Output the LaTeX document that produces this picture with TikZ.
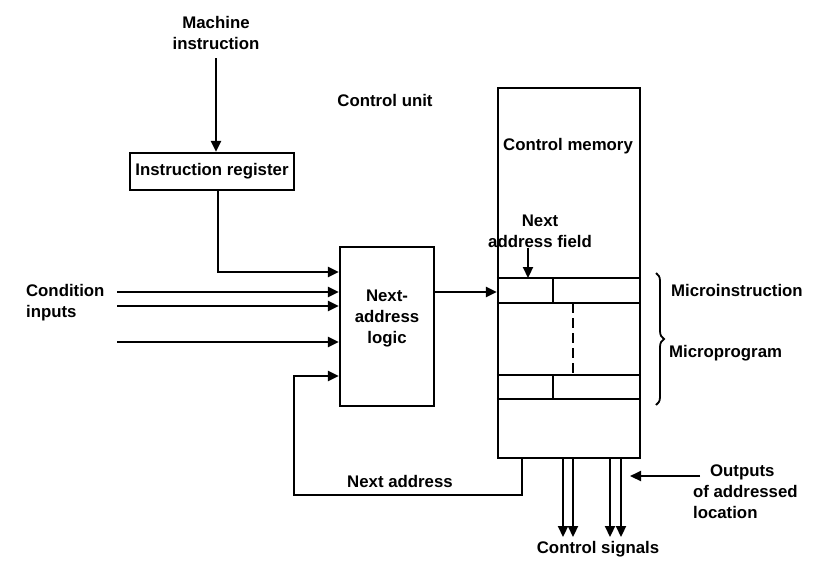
\documentclass[tikz,border=0pt]{standalone}
\usepackage{fontspec}
\setmainfont{Liberation Sans}
\usetikzlibrary{arrows.meta,decorations.pathreplacing}
\begin{document}
\begin{tikzpicture}[x=1pt,y=-1pt,
  line width=2.2pt,
  every node/.style={font=\fontsize{16.8}{21}\selectfont\bfseries, inner sep=0pt},
  arr/.style={-{Triangle[length=11pt,width=10pt]}},
  lbl/.style={align=center},
  blk/.style={draw, rectangle}]
\useasboundingbox (0,0) rectangle (824,560);
% texts
\node[lbl] (mi) at (216,33) {Machine\\instruction};
\node (cu) at (385,100) {Control unit};
\node[blk, minimum width=164pt, minimum height=37pt] (ir) at (212,171.5) {Instruction register};
\node[blk, minimum width=94pt, minimum height=159pt] (nal) at (387,326.5) {};
\node[lbl] (nalt) at (387,318) {Next-\\address\\logic};
\node[blk, minimum width=142pt, minimum height=370pt] (cm) at (569,273) {};
\node (cmt) at (568,146) {Control memory};
\node[lbl] (naf) at (540,231) {Next\\address field};
\node[align=left, anchor=west] (ci) at (25,303) {Condition\\inputs};
\node[anchor=west] (mins) at (670,290) {Microinstruction};
\node[anchor=west] (mprog) at (668,353) {Microprogram};
\node (nat) at (400,481) {Next address};
\node (cs) at (598,549) {Control signals};
\node[align=left, anchor=west] (out) at (692,492) {\hspace*{17pt}Outputs\\of addressed\\location};
% coordinates
\coordinate (c1) at (117,292);
\coordinate (c2) at (117,306);
\coordinate (c3) at (117,342);
% arrows
\draw[arr] (216,58) -- (ir.north -| 216,0);
\draw[arr] (ir.south -| 218,0) -- (218,272) -- (nal.west |- 0,272);
\draw[arr] (c1) -- (nal.west |- c1);
\draw[arr] (c2) -- (nal.west |- c2);
\draw[arr] (c3) -- (nal.west |- c3);
\draw[arr] (cm.south -| 522,0) -- (522,495) -- (294,495) -- (294,376) -- (nal.west |- 0,376);
\draw[arr] (nal.east |- 0,292) -- (cm.west |- 0,292);
\draw[arr] (528,248) -- (528,278);
% memory rows
\draw (cm.west |- 0,278) -- (cm.east |- 0,278);
\draw (cm.west |- 0,303) -- (cm.east |- 0,303);
\draw (cm.west |- 0,375) -- (cm.east |- 0,375);
\draw (cm.west |- 0,399) -- (cm.east |- 0,399);
\draw (553,278) -- (553,303);
\draw (553,375) -- (553,399);
\draw[dash pattern=on 10pt off 5pt] (573,303) -- (573,375);
% brace
\draw[line width=1.8pt, decorate, decoration={brace, amplitude=8pt}] (656,273) -- (656,405);
% outputs
\draw[arr] (cm.south -| 563,0) -- (563,537);
\draw[arr] (cm.south -| 573,0) -- (573,537);
\draw[arr] (cm.south -| 610,0) -- (610,537);
\draw[arr] (cm.south -| 621,0) -- (621,537);
\draw[arr] (out.west |- 0,476) ++(8,0) -- (630,476);
\end{tikzpicture}
\end{document}
